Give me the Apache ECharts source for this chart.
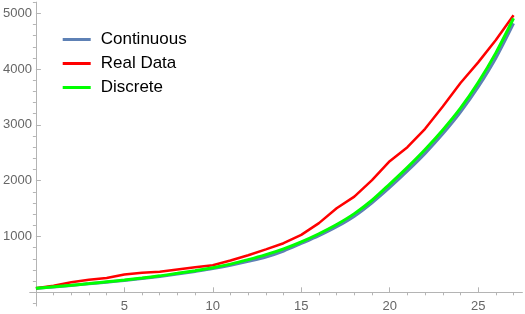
<!DOCTYPE html>
<html><head><meta charset="utf-8">
<script src="https://cdn.jsdelivr.net/npm/echarts@6/dist/echarts.min.js"></script>
<style>html,body{margin:0;padding:0;background:#fff}#c{width:525px;height:314px}</style>
</head><body><div id="c"></div>
<script>
var days = [0,1,2,3,4,5,6,7,8,9,10,11,12,13,14,15,16,17,18,19,20,21,22,23,24,25,26,27];
var continuous = [70,96,124,152,182,213,247,285,328,375,425,485,555,632,740,875,1015,1175,1365,1605,1880,2175,2490,2840,3230,3680,4200,4820];
var realData = [72,120,180,225,255,320,350,370,410,450,485,570,665,770,880,1030,1240,1505,1715,2010,2350,2600,2930,3330,3750,4120,4520,4965];
var discrete = [72,100,128,157,188,220,255,295,340,388,440,505,585,675,780,905,1050,1215,1410,1650,1940,2240,2560,2910,3300,3760,4290,4910];
var xMajorTicks = [5,10,15,20,25];
var xMinorTicks = [1,2,3,4,6,7,8,9,11,12,13,14,16,17,18,19,21,22,23,24,26,27];
var yMajorTicks = [1000,2000,3000,4000,5000];
var yMinorTicks = [-200,200,400,600,800,1200,1400,1600,1800,2200,2400,2600,2800,3200,3400,3600,3800,4200,4400,4600,4800,5200];
var seriesNames = ['Continuous','Real Data','Discrete'];

function pairs(ys){ return days.map(function(d,i){ return [d, ys[i]]; }); }
var axisColor = '#b4b4b4';
var font = '"Liberation Sans", Arial, sans-serif';
var XMIN = -0.35, XMAX = 27.5, YMIN = -245, YMAX = 5200;

var chart = echarts.init(document.getElementById('c'), null, {renderer:'canvas'});
chart.setOption({
  animation:false,
  grid:[
    {left:29.7, right:2.6, top:2.1, bottom:8.0, containLabel:false, outerBoundsMode:'none'},
    {left:35.9, right:2.6, top:2.1, bottom:21.7, containLabel:false, outerBoundsMode:'none'}
  ],
  legend:{
    orient:'vertical', left:57.7, top:24.5, itemWidth:28, itemHeight:3, itemGap:4, icon:'rect',
    data:seriesNames,
    textStyle:{fontFamily:font, fontSize:17, color:'#000', lineHeight:20, padding:[0,0,0,5]}
  },
  xAxis:[{
    gridIndex:0, type:'value', min:XMIN, max:XMAX,
    axisLine:{show:true, onZero:true, lineStyle:{color:axisColor, width:1}},
    axisTick:{show:true, inside:true, length:5, customValues:xMajorTicks, lineStyle:{color:axisColor}},
    axisLabel:{show:false},
    splitLine:{show:false}
  },{
    gridIndex:0, type:'value', min:XMIN, max:XMAX,
    axisLine:{show:false, onZero:true},
    axisTick:{show:true, inside:true, length:3, customValues:xMinorTicks, lineStyle:{color:axisColor}},
    axisLabel:{show:false}, splitLine:{show:false}
  },{
    gridIndex:1, type:'value', min:0, max:XMAX,
    axisLine:{show:false, onZero:false}, axisTick:{show:false},
    axisLabel:{show:true, customValues:xMajorTicks, margin:8, color:'#666', fontFamily:font, fontSize:13},
    splitLine:{show:false}
  }],
  yAxis:[{
    gridIndex:0, type:'value', min:YMIN, max:YMAX,
    axisLine:{show:true, onZero:true, lineStyle:{color:axisColor, width:1}},
    axisTick:{show:true, inside:true, length:5, customValues:yMajorTicks, lineStyle:{color:axisColor}},
    axisLabel:{show:false},
    splitLine:{show:false}
  },{
    gridIndex:0, type:'value', min:YMIN, max:YMAX,
    axisLine:{show:false, onZero:true},
    axisTick:{show:true, inside:true, length:3, customValues:yMinorTicks, lineStyle:{color:axisColor}},
    axisLabel:{show:false}, splitLine:{show:false}
  },{
    gridIndex:1, type:'value', min:0, max:YMAX,
    axisLine:{show:false, onZero:false}, axisTick:{show:false},
    axisLabel:{show:true, customValues:yMajorTicks, margin:4, color:'#666', fontFamily:font, fontSize:13,
      formatter:function(v){return String(v);}},
    splitLine:{show:false}
  }],
  series:[
    {name:seriesNames[0], type:'line', data:pairs(continuous), smooth:0.3, symbol:'none', xAxisIndex:0, yAxisIndex:0,
      lineStyle:{color:'#5e81b5', width:3}, itemStyle:{color:'#5e81b5'}},
    {name:seriesNames[1], type:'line', data:pairs(realData), symbol:'none', xAxisIndex:0, yAxisIndex:0,
      lineStyle:{color:'#ff0000', width:2.5}, itemStyle:{color:'#ff0000'}},
    {name:seriesNames[2], type:'line', data:pairs(discrete), smooth:0.3, symbol:'none', xAxisIndex:0, yAxisIndex:0,
      lineStyle:{color:'#00ff00', width:3}, itemStyle:{color:'#00ff00'}}
  ]
});
</script></body></html>
